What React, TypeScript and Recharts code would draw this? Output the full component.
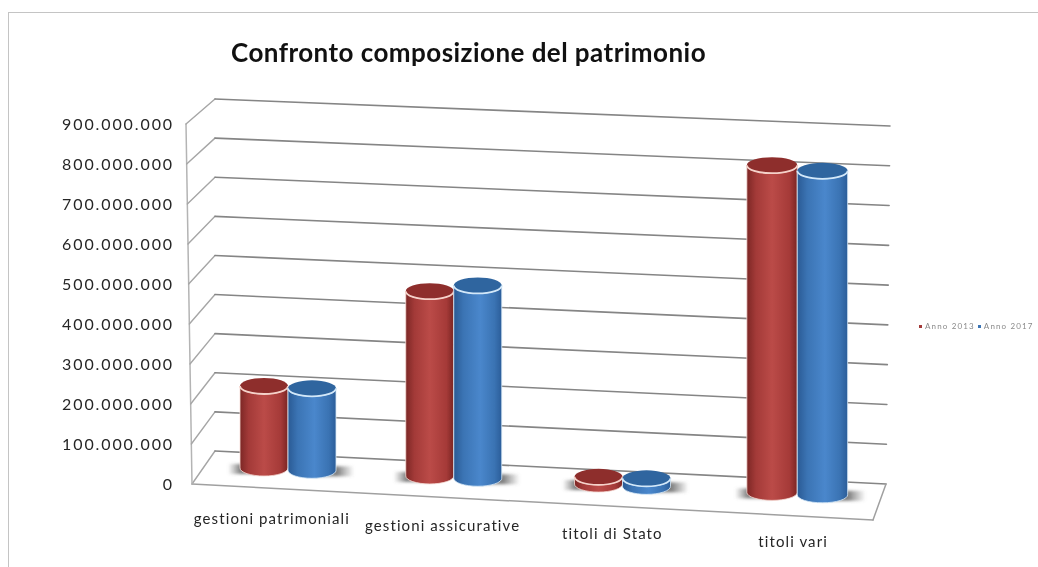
import React from "react";
import { ComposedChart, Bar, XAxis, YAxis, CartesianGrid, Legend } from "recharts";

const categories = ["gestioni patrimoniali", "gestioni assicurative", "titoli di Stato", "titoli vari"];
const anno2013 = [205000000, 462000000, 18000000, 818000000];
const anno2017 = [205000000, 482000000, 20000000, 810000000];
const valueTicks = [0, 100000000, 200000000, 300000000, 400000000, 500000000, 600000000, 700000000, 800000000, 900000000];

const chartData = categories.map((name, i) => ({ name, anno2013: anno2013[i], anno2017: anno2017[i] }));

const FONT = "Lato, 'Noto Sans', sans-serif";
const PLOT_BOTTOM = 484;
const PLOT_HEIGHT = 360;
// nudges for the 3d look, groups are not evenly spaced and grow towards the viewer
const labelNudge = [-16, -15, -15, -4];
const groupNudge = [0, -4, -5, 0];
const groupZoom = [1, 1, 1, 1.05];

const formatTick = (v: number) => String(v).replace(/\B(?=(\d{3})+(?!\d))/g, ".");

// one gridline bent around the left wall and the back wall
function WallLine(props: any) {
  const t = (PLOT_BOTTOM - props.y1) / PLOT_HEIGHT;
  const front = [192 - 6 * t, PLOT_BOTTOM - 360 * t];
  const backL = [215, 451 - 352 * t];
  const backR = [886 + 4 * t, PLOT_BOTTOM - 358 * t];
  return (
    <g fill="none" strokeLinecap="round">
      <line x1={front[0]} y1={front[1]} x2={backL[0]} y2={backL[1]} stroke="#a6a6a6" strokeWidth={1.4} />
      <line x1={backL[0]} y1={backL[1]} x2={backR[0]} y2={backR[1]} stroke="#858585" strokeWidth={1.6} />
      {props.index === 0 && t < 0.01 && (
        <g stroke="#a0a0a0" strokeWidth={1.5}>
          <line x1={192} y1={484} x2={873} y2={520} />
          <line x1={873} y1={520} x2={886} y2={484} />
          <line x1={192} y1={484} x2={186} y2={124} stroke="#b4b4b4" />
        </g>
      )}
    </g>
  );
}

function Cylinder(props: any) {
  const { y, height, series, index } = props;
  const red = series === "red";
  const mid = red ? props.x + props.width : props.x;
  const zoom = groupZoom[index];
  const width = props.width * zoom;
  const x = mid + groupNudge[index] + (props.x - mid) * zoom;
  const rx = width / 2;
  const ry = 8;
  const cx = x + rx;
  // bars stand further back on the floor, which runs downhill to the right
  const dy = -16 + 0.048 * (cx - 264);
  const top = y + dy;
  const bot = y + height + dy;
  const body = `M${x},${top} L${x},${bot} A${rx},${ry} 0 0 0 ${x + width},${bot} L${x + width},${top} A${rx},${ry} 0 0 1 ${x},${top} Z`;
  const shadowX = red ? x - 12 : cx;
  return (
    <g>
      <rect
        x={shadowX}
        y={bot - 4}
        width={rx + (red ? 12 : 18)}
        height={10}
        fill={red ? "url(#shadeLeft)" : "url(#shadeRight)"}
        filter="url(#soft)"
      />
      <path d={body} fill={red ? "url(#redBody)" : "url(#blueBody)"} stroke={red ? "#f6dcd6" : "#d8eaf8"} strokeWidth={0.8} />
      <ellipse cx={cx} cy={top} rx={rx} ry={ry} fill={red ? "#8e2e2c" : "#2f659f"} />
      <path
        d={`M${x},${top} A${rx},${ry} 0 0 0 ${x + width},${top}`}
        fill="none"
        stroke={red ? "#f5d2ca" : "#d3e8f9"}
        strokeWidth={1.8}
      />
    </g>
  );
}

function CategoryTick(props: any) {
  const { x, payload, index } = props;
  return (
    <text
      x={x + labelNudge[index]}
      y={520 + 0.045 * (x - 288)}
      textAnchor="middle"
      dominantBaseline="middle"
      fontFamily={FONT}
      fontSize={15}
      letterSpacing={1.1}
      fill="#262626"
    >
      {payload.value}
    </text>
  );
}

function LegendRow({ payload }: any) {
  return (
    <div style={{ display: "flex", fontFamily: FONT, fontSize: 8, letterSpacing: 1.15, color: "#8a8a8a", whiteSpace: "nowrap" }}>
      {(payload || []).map((item: any) => (
        <span key={item.value} style={{ display: "flex", alignItems: "center", marginRight: 3 }}>
          <span style={{ width: 3, height: 3, background: item.color, marginRight: 3 }} />
          {item.value}
        </span>
      ))}
    </div>
  );
}

export default function App() {
  return (
    <div style={{ position: "absolute", left: 0, top: 0, width: 1038, height: 567, background: "#fff", overflow: "hidden", filter: "blur(0.4px)" }}>
      <div style={{ position: "absolute", left: 8, top: 12, width: 1040, height: 600, border: "1px solid #c4c4c4" }} />
      <div
        style={{
          position: "absolute",
          left: 231,
          top: 36,
          fontFamily: FONT,
          fontSize: 26,
          fontWeight: 700,
          letterSpacing: 0.45,
          color: "#111",
          whiteSpace: "nowrap",
        }}
      >
        Confronto composizione del patrimonio
      </div>
      <ComposedChart
        width={1038}
        height={567}
        data={chartData}
        margin={{ top: 124, right: 156, bottom: 23, left: 83 }}
        barSize={48}
        barGap={0}
        style={{ position: "absolute", left: 0, top: 0 }}
      >
        <defs>
          <linearGradient id="redBody" x1="0" y1="0" x2="1" y2="0">
            <stop offset="0" stopColor="#7c2725" />
            <stop offset="0.18" stopColor="#a33a38" />
            <stop offset="0.5" stopColor="#bb4b48" />
            <stop offset="0.85" stopColor="#a53a38" />
            <stop offset="1" stopColor="#7a2523" />
          </linearGradient>
          <linearGradient id="blueBody" x1="0" y1="0" x2="1" y2="0">
            <stop offset="0" stopColor="#2a5a94" />
            <stop offset="0.2" stopColor="#3b74b4" />
            <stop offset="0.55" stopColor="#4a87cc" />
            <stop offset="0.85" stopColor="#3a73b3" />
            <stop offset="1" stopColor="#2b5d99" />
          </linearGradient>
          <linearGradient id="shadeLeft" x1="0" y1="0" x2="1" y2="0">
            <stop offset="0" stopColor="#666" stopOpacity="0" />
            <stop offset="0.35" stopColor="#555" stopOpacity="0.75" />
            <stop offset="1" stopColor="#555" stopOpacity="0.75" />
          </linearGradient>
          <linearGradient id="shadeRight" x1="0" y1="0" x2="1" y2="0">
            <stop offset="0" stopColor="#555" stopOpacity="0.75" />
            <stop offset="0.6" stopColor="#555" stopOpacity="0.75" />
            <stop offset="1" stopColor="#666" stopOpacity="0" />
          </linearGradient>
          <filter id="soft" x="-30%" y="-100%" width="160%" height="300%">
            <feGaussianBlur stdDeviation="1.8" />
          </filter>
        </defs>
        <CartesianGrid vertical={false} horizontal={(p: any) => <WallLine key={p.key} {...p} />} />
        <XAxis dataKey="name" axisLine={false} tickLine={false} height={60} interval={0} tick={CategoryTick} />
        <YAxis
          domain={[0, 900000000]}
          ticks={valueTicks}
          axisLine={false}
          tickLine={false}
          width={120}
          tickMargin={23}
          tickFormatter={formatTick}
          tick={{ fontFamily: FONT, fontSize: 16, fill: "#262626", letterSpacing: 1.9 }}
        />
        <Legend
          layout="horizontal"
          verticalAlign="middle"
          align="center"
          wrapperStyle={{ left: 919, top: 321, width: 119 }}
          content={LegendRow}
        />
        <Bar dataKey="anno2013" name="Anno 2013" fill="#a33a38" isAnimationActive={false} shape={(p: any) => <Cylinder {...p} series="red" />} />
        <Bar dataKey="anno2017" name="Anno 2017" fill="#3b74b4" isAnimationActive={false} shape={(p: any) => <Cylinder {...p} series="blue" />} />
      </ComposedChart>
    </div>
  );
}
